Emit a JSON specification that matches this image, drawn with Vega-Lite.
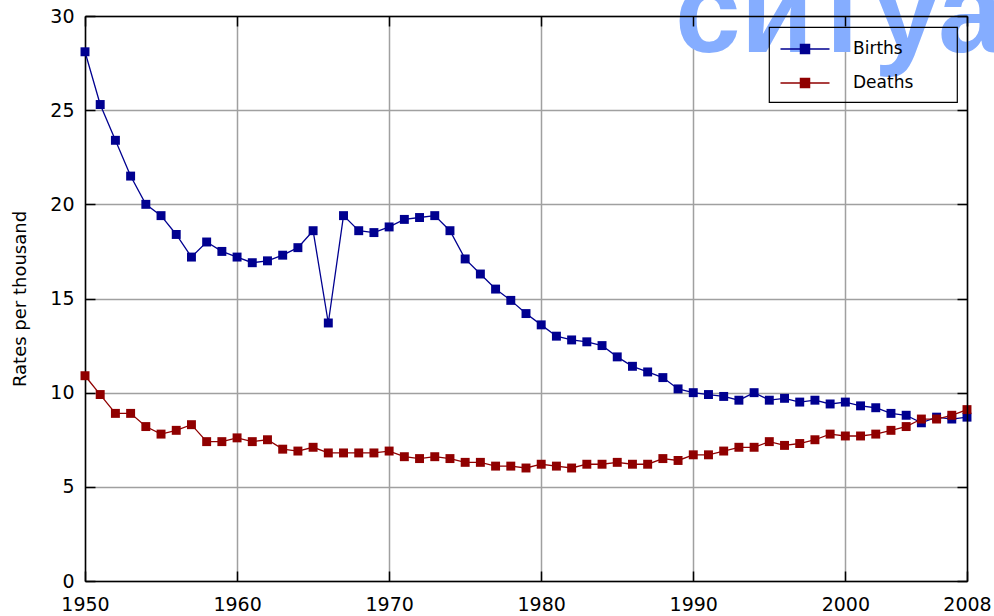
{
  "$schema": "https://vega.github.io/schema/vega-lite/v6.json",
  "width": 882,
  "height": 565,
  "autosize": {"type": "none"},
  "padding": {"left": 85, "top": 16, "right": 27, "bottom": 35},
  "background": "white",
  "config": {
    "font": "DejaVu Sans",
    "view": {"stroke": null},
    "axis": {
      "labelFont": "DejaVu Sans",
      "labelFontSize": 19,
      "labelColor": "black",
      "titleFont": "DejaVu Sans",
      "titleFontWeight": "normal",
      "titleColor": "black",
      "domainColor": "black",
      "domainWidth": 1.5,
      "tickColor": "black",
      "tickWidth": 1.5,
      "tickSize": -10,
      "gridColor": "#a0a0a0",
      "gridWidth": 1.5,
      "gridOpacity": 1
    },
    "legend": {
      "orient": "none",
      "legendX": 684,
      "legendY": 11,
      "strokeColor": "black",
      "strokeWidth": 1.2,
      "padding": 11,
      "rowPadding": 15,
      "labelFont": "DejaVu Sans",
      "labelFontSize": 17,
      "labelColor": "black",
      "labelOffset": 37,
      "symbolOffset": 14,
      "symbolType": "M-2.45,0H2.45M-0.46,-0.46H0.46V0.46H-0.46Z",
      "symbolSize": 400,
      "symbolStrokeWidth": 1.3
    }
  },
  "data": {
    "values": [
      {"year": 1950, "series": "Births", "value": 28.1},
      {"year": 1951, "series": "Births", "value": 25.3},
      {"year": 1952, "series": "Births", "value": 23.4},
      {"year": 1953, "series": "Births", "value": 21.5},
      {"year": 1954, "series": "Births", "value": 20.0},
      {"year": 1955, "series": "Births", "value": 19.4},
      {"year": 1956, "series": "Births", "value": 18.4},
      {"year": 1957, "series": "Births", "value": 17.2},
      {"year": 1958, "series": "Births", "value": 18.0},
      {"year": 1959, "series": "Births", "value": 17.5},
      {"year": 1960, "series": "Births", "value": 17.2},
      {"year": 1961, "series": "Births", "value": 16.9},
      {"year": 1962, "series": "Births", "value": 17.0},
      {"year": 1963, "series": "Births", "value": 17.3},
      {"year": 1964, "series": "Births", "value": 17.7},
      {"year": 1965, "series": "Births", "value": 18.6},
      {"year": 1966, "series": "Births", "value": 13.7},
      {"year": 1967, "series": "Births", "value": 19.4},
      {"year": 1968, "series": "Births", "value": 18.6},
      {"year": 1969, "series": "Births", "value": 18.5},
      {"year": 1970, "series": "Births", "value": 18.8},
      {"year": 1971, "series": "Births", "value": 19.2},
      {"year": 1972, "series": "Births", "value": 19.3},
      {"year": 1973, "series": "Births", "value": 19.4},
      {"year": 1974, "series": "Births", "value": 18.6},
      {"year": 1975, "series": "Births", "value": 17.1},
      {"year": 1976, "series": "Births", "value": 16.3},
      {"year": 1977, "series": "Births", "value": 15.5},
      {"year": 1978, "series": "Births", "value": 14.9},
      {"year": 1979, "series": "Births", "value": 14.2},
      {"year": 1980, "series": "Births", "value": 13.6},
      {"year": 1981, "series": "Births", "value": 13.0},
      {"year": 1982, "series": "Births", "value": 12.8},
      {"year": 1983, "series": "Births", "value": 12.7},
      {"year": 1984, "series": "Births", "value": 12.5},
      {"year": 1985, "series": "Births", "value": 11.9},
      {"year": 1986, "series": "Births", "value": 11.4},
      {"year": 1987, "series": "Births", "value": 11.1},
      {"year": 1988, "series": "Births", "value": 10.8},
      {"year": 1989, "series": "Births", "value": 10.2},
      {"year": 1990, "series": "Births", "value": 10.0},
      {"year": 1991, "series": "Births", "value": 9.9},
      {"year": 1992, "series": "Births", "value": 9.8},
      {"year": 1993, "series": "Births", "value": 9.6},
      {"year": 1994, "series": "Births", "value": 10.0},
      {"year": 1995, "series": "Births", "value": 9.6},
      {"year": 1996, "series": "Births", "value": 9.7},
      {"year": 1997, "series": "Births", "value": 9.5},
      {"year": 1998, "series": "Births", "value": 9.6},
      {"year": 1999, "series": "Births", "value": 9.4},
      {"year": 2000, "series": "Births", "value": 9.5},
      {"year": 2001, "series": "Births", "value": 9.3},
      {"year": 2002, "series": "Births", "value": 9.2},
      {"year": 2003, "series": "Births", "value": 8.9},
      {"year": 2004, "series": "Births", "value": 8.8},
      {"year": 2005, "series": "Births", "value": 8.4},
      {"year": 2006, "series": "Births", "value": 8.7},
      {"year": 2007, "series": "Births", "value": 8.6},
      {"year": 2008, "series": "Births", "value": 8.7},
      {"year": 1950, "series": "Deaths", "value": 10.9},
      {"year": 1951, "series": "Deaths", "value": 9.9},
      {"year": 1952, "series": "Deaths", "value": 8.9},
      {"year": 1953, "series": "Deaths", "value": 8.9},
      {"year": 1954, "series": "Deaths", "value": 8.2},
      {"year": 1955, "series": "Deaths", "value": 7.8},
      {"year": 1956, "series": "Deaths", "value": 8.0},
      {"year": 1957, "series": "Deaths", "value": 8.3},
      {"year": 1958, "series": "Deaths", "value": 7.4},
      {"year": 1959, "series": "Deaths", "value": 7.4},
      {"year": 1960, "series": "Deaths", "value": 7.6},
      {"year": 1961, "series": "Deaths", "value": 7.4},
      {"year": 1962, "series": "Deaths", "value": 7.5},
      {"year": 1963, "series": "Deaths", "value": 7.0},
      {"year": 1964, "series": "Deaths", "value": 6.9},
      {"year": 1965, "series": "Deaths", "value": 7.1},
      {"year": 1966, "series": "Deaths", "value": 6.8},
      {"year": 1967, "series": "Deaths", "value": 6.8},
      {"year": 1968, "series": "Deaths", "value": 6.8},
      {"year": 1969, "series": "Deaths", "value": 6.8},
      {"year": 1970, "series": "Deaths", "value": 6.9},
      {"year": 1971, "series": "Deaths", "value": 6.6},
      {"year": 1972, "series": "Deaths", "value": 6.5},
      {"year": 1973, "series": "Deaths", "value": 6.6},
      {"year": 1974, "series": "Deaths", "value": 6.5},
      {"year": 1975, "series": "Deaths", "value": 6.3},
      {"year": 1976, "series": "Deaths", "value": 6.3},
      {"year": 1977, "series": "Deaths", "value": 6.1},
      {"year": 1978, "series": "Deaths", "value": 6.1},
      {"year": 1979, "series": "Deaths", "value": 6.0},
      {"year": 1980, "series": "Deaths", "value": 6.2},
      {"year": 1981, "series": "Deaths", "value": 6.1},
      {"year": 1982, "series": "Deaths", "value": 6.0},
      {"year": 1983, "series": "Deaths", "value": 6.2},
      {"year": 1984, "series": "Deaths", "value": 6.2},
      {"year": 1985, "series": "Deaths", "value": 6.3},
      {"year": 1986, "series": "Deaths", "value": 6.2},
      {"year": 1987, "series": "Deaths", "value": 6.2},
      {"year": 1988, "series": "Deaths", "value": 6.5},
      {"year": 1989, "series": "Deaths", "value": 6.4},
      {"year": 1990, "series": "Deaths", "value": 6.7},
      {"year": 1991, "series": "Deaths", "value": 6.7},
      {"year": 1992, "series": "Deaths", "value": 6.9},
      {"year": 1993, "series": "Deaths", "value": 7.1},
      {"year": 1994, "series": "Deaths", "value": 7.1},
      {"year": 1995, "series": "Deaths", "value": 7.4},
      {"year": 1996, "series": "Deaths", "value": 7.2},
      {"year": 1997, "series": "Deaths", "value": 7.3},
      {"year": 1998, "series": "Deaths", "value": 7.5},
      {"year": 1999, "series": "Deaths", "value": 7.8},
      {"year": 2000, "series": "Deaths", "value": 7.7},
      {"year": 2001, "series": "Deaths", "value": 7.7},
      {"year": 2002, "series": "Deaths", "value": 7.8},
      {"year": 2003, "series": "Deaths", "value": 8.0},
      {"year": 2004, "series": "Deaths", "value": 8.2},
      {"year": 2005, "series": "Deaths", "value": 8.6},
      {"year": 2006, "series": "Deaths", "value": 8.6},
      {"year": 2007, "series": "Deaths", "value": 8.8},
      {"year": 2008, "series": "Deaths", "value": 9.1}
    ]
  },
  "resolve": {"axis": {"x": "independent", "y": "independent"}},
  "layer": [
    {
      "data": {"values": [{"word": "ситуация"}]},
      "mark": {"type": "text", "font": "Liberation Sans", "fontWeight": "bold", "fontSize": 118, "color": "#85adff", "align": "left", "baseline": "alphabetic"},
      "encoding": {
        "x": {"datum": 1988.8, "type": "quantitative", "axis": null},
        "y": {"datum": 28.1, "type": "quantitative", "axis": null},
        "text": {"field": "word"}
      }
    },
    {
      "mark": {"type": "line", "strokeWidth": 1.3},
      "encoding": {
        "x": {"field": "year", "type": "quantitative", "scale": {"domain": [1950, 2008], "nice": false, "zero": false},
              "axis": {"orient": "bottom", "values": [1950, 1960, 1970, 1980, 1990, 2000, 2008], "format": "d", "title": null, "grid": true, "labelPadding": 24, "labelFlush": false}},
        "y": {"field": "value", "type": "quantitative", "scale": {"domain": [0, 30], "nice": false},
              "axis": {"orient": "left", "values": [0, 5, 10, 15, 20, 25, 30], "title": "Rates per thousand", "titleFontSize": 18, "titlePadding": 20, "grid": true, "labelPadding": 21}},
        "color": {"field": "series", "type": "nominal", "scale": {"domain": ["Births", "Deaths"], "range": ["#000090", "#900000"]},
                  "legend": {"title": null, "labelExpr": "datum.label + '\u00a0\u00a0\u00a0\u00a0\u00a0\u00a0\u200b'",
                             "encode": {"symbols": {"update": {"fill": {"scale": "color", "field": "value"}, "stroke": {"scale": "color", "field": "value"}}}}}}
      }
    },
    {
      "mark": {"type": "point", "shape": "square", "filled": true, "size": 80, "opacity": 1},
      "encoding": {
        "x": {"field": "year", "type": "quantitative", "axis": {"orient": "top", "values": [1950, 1960, 1970, 1980, 1990, 2000, 2008], "labels": false, "grid": false, "title": null, "zindex": 1}},
        "y": {"field": "value", "type": "quantitative", "axis": {"orient": "right", "values": [0, 5, 10, 15, 20, 25, 30], "labels": false, "grid": false, "title": null, "zindex": 1}},
        "color": {"field": "series", "type": "nominal"}
      }
    }
  ]
}
